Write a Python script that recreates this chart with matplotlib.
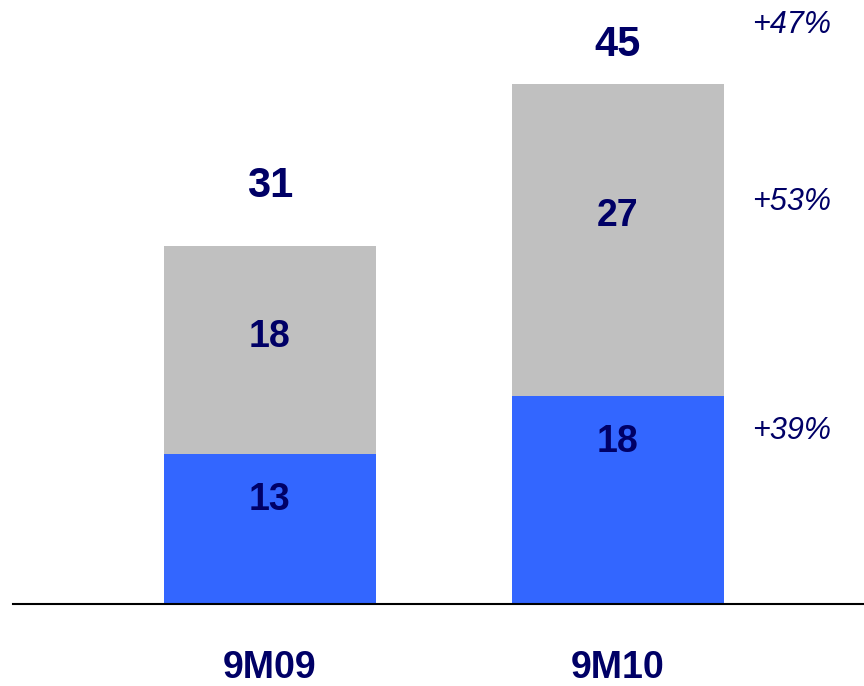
import matplotlib
matplotlib.use("Agg")
import matplotlib.pyplot as plt

categories = ["9M09", "9M10"]
blue_values = [13, 18]
gray_values = [18, 27]
totals = [31, 45]
growth_labels = ["+39%", "+53%", "+47%"]

BLUE = "#3366FF"
GRAY = "#C0C0C0"
NAVY = "#000066"

plt.rcParams['font.family'] = ['Liberation Sans', 'DejaVu Sans']

fig = plt.figure(figsize=(8.64, 6.86), dpi=100)
ax = fig.add_axes([13 / 864, 82 / 686, 851 / 864, 604 / 686])

x = list(range(len(categories)))
width = 0.609
ax.bar(x, blue_values, width=width, color=BLUE, zorder=2)
ax.bar(x, gray_values, width=width, bottom=blue_values, color=GRAY, zorder=2)

ax.set_xlim(-0.7385, 1.707)
ax.set_ylim(0, 52.3)

total_offsets = [60, 39]
gray_offsets = [13, 24]
for i in x:
    b = blue_values[i]
    g = gray_values[i]
    ax.annotate(str(b), xy=(i, b), xytext=(0, -46), textcoords='offset pixels',
                ha='center', va='center', fontsize=27, fontweight='bold', color=NAVY)
    ax.annotate(str(g), xy=(i, b + g / 2), xytext=(0, gray_offsets[i]), textcoords='offset pixels',
                ha='center', va='center', fontsize=27, fontweight='bold', color=NAVY)
    ax.annotate(str(totals[i]), xy=(i, b + g), xytext=(0, total_offsets[i]), textcoords='offset pixels',
                ha='center', va='center', fontsize=30, fontweight='bold', color=NAVY)
    ax.annotate(categories[i], xy=(i, 0), xytext=(0, -64), textcoords='offset pixels',
                ha='center', va='center', fontsize=27, fontweight='bold', color=NAVY,
                annotation_clip=False)

# growth labels to the right of the second bar
last = len(categories) - 1
gx = last + 0.5
gy_points = [
    (blue_values[last], -46 + 11),
    (blue_values[last] + gray_values[last] / 2, 24 + 14),
    (blue_values[last] + gray_values[last], 39 + 20),
]
for lbl, (yv, off) in zip(growth_labels, gy_points):
    ax.annotate(lbl, xy=(gx, yv), xytext=(0, off), textcoords='offset pixels',
                ha='center', va='center', fontsize=22, fontstyle='italic', color=NAVY,
                annotation_clip=False)

for s in ['top', 'right', 'left']:
    ax.spines[s].set_visible(False)
ax.spines['bottom'].set_linewidth(1.5)
ax.spines['bottom'].set_color('black')
ax.spines['bottom'].set_zorder(3)
ax.set_xticks([])
ax.set_yticks([])
ax.patch.set_alpha(0)

fig.savefig("out.png", dpi=100)
